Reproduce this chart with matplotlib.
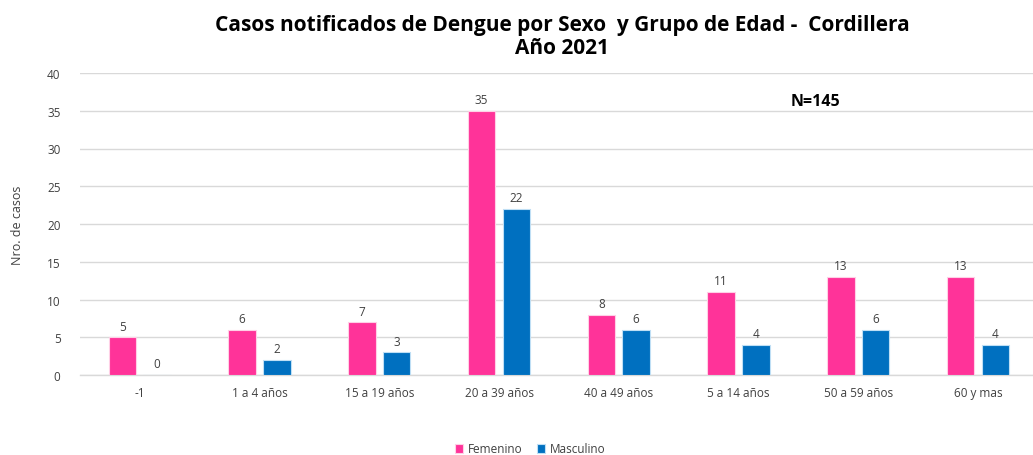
import matplotlib
matplotlib.use("Agg")
import matplotlib.pyplot as plt
import numpy as np

categories = ["-1", "1 a 4 años", "15 a 19 años", "20 a 39 años", "40 a 49 años",
              "5 a 14 años", "50 a 59 años", "60 y mas"]
femenino = [5, 6, 7, 35, 8, 11, 13, 13]
masculino = [0, 2, 3, 22, 6, 4, 6, 4]

plt.rcParams['font.family'] = ['Open Sans', 'DejaVu Sans']

fig = plt.figure(figsize=(10.33, 4.56), dpi=100)
ax = fig.add_axes([80/1033, 80/456, 1 - 80/1033, (376-74)/456])

x = np.arange(len(categories))
w = 0.23
off = 0.145
pink = "#FF3399"
blue = "#0070C0"
b1 = ax.bar(x - off, femenino, w, color=pink, edgecolor="#FFD0E6", linewidth=0.8, label="Femenino", zorder=3)
b2 = ax.bar(x + off, masculino, w, color=blue, edgecolor="#BFDFF5", linewidth=0.8, label="Masculino", zorder=3)

for rects, vals in ((b1, femenino), (b2, masculino)):
    for r, v in zip(rects, vals):
        ax.text(r.get_x() + r.get_width()/2, v + 0.6, str(v), ha="center", va="bottom",
                fontsize=8.5, color="#404040")

ax.set_xlim(-0.5, 7.46)
ax.set_ylim(0, 40)
ax.set_yticks(range(0, 41, 5))
ax.set_xticks(x)
ax.set_xticklabels(categories)
ax.tick_params(axis="both", length=0, labelsize=8.5, colors="#404040")
ax.tick_params(axis="x", pad=8)
ax.tick_params(axis="y", pad=14)
ax.grid(axis="y", color="#D9D9D9", linewidth=1, zorder=0)
for s in ["top", "right", "left"]:
    ax.spines[s].set_visible(False)
ax.spines["bottom"].set_color("#D9D9D9")
ax.spines["bottom"].set_linewidth(1)

fig.text(18/1033, 1 - 225/456, "Nro. de casos", rotation=90, ha="center", va="center",
         fontsize=9, color="#404040")

fig.text(562/1033, 1 - 25/456, "Casos notificados de Dengue por Sexo  y Grupo de Edad -  Cordillera",
         ha="center", va="center", fontsize=15, fontweight="bold", color="black")
fig.text(562/1033, 1 - 48/456, "Año 2021", ha="center", va="center", fontsize=15,
         fontweight="bold", color="black")

fig.text(815/1033, 1 - 102/456, "N=145", ha="center", va="center", fontsize=11.5,
         fontweight="bold", color="black")

fig.legend(handles=[b1, b2], loc="center", bbox_to_anchor=(530/1033, 1 - 450/456), ncol=2,
           frameon=False, fontsize=8.5, handlelength=0.7, handleheight=0.7,
           handletextpad=0.4, columnspacing=1.2, labelcolor="#404040")

fig.savefig("out.png", dpi=100)
